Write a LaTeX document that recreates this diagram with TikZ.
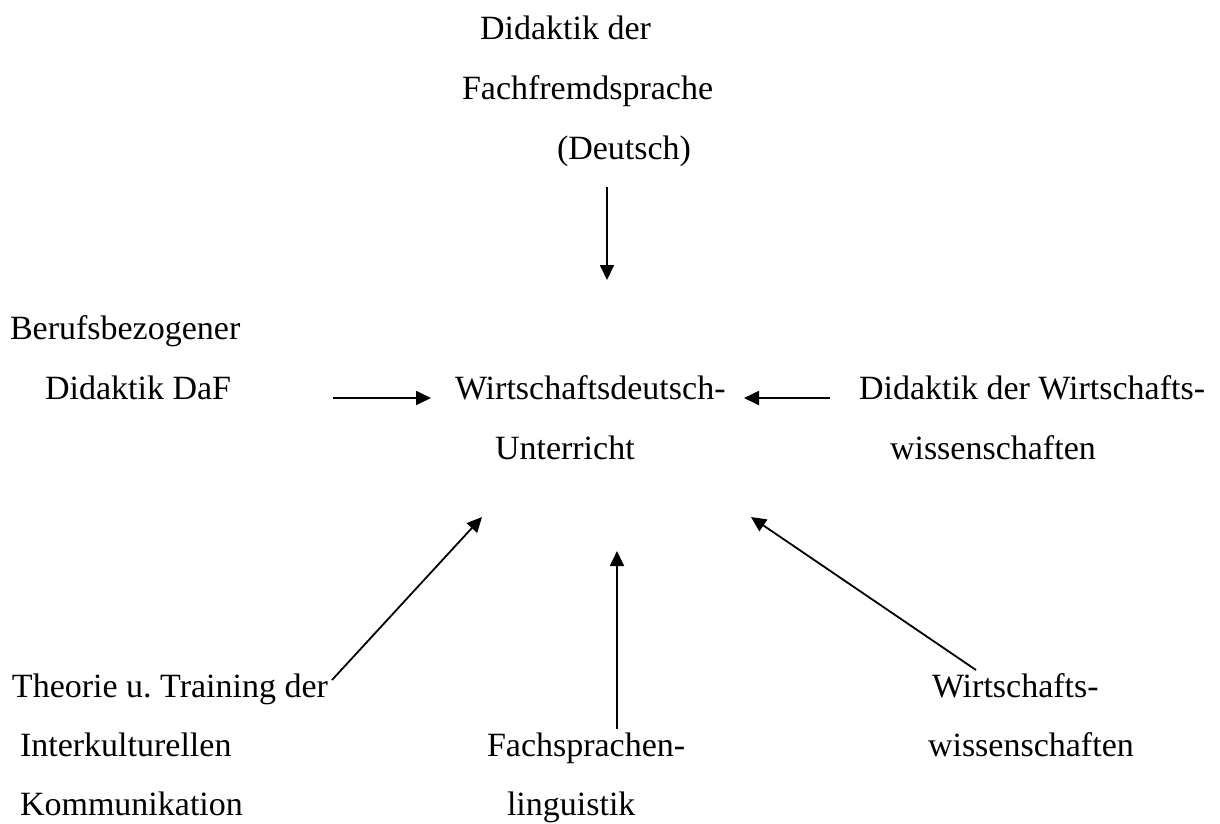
\documentclass[tikz,border=0pt]{standalone}
\usepackage{fontspec}
\setmainfont{Liberation Serif}
\usetikzlibrary{arrows.meta}
\frenchspacing
\tikzset{
  txt/.style={anchor=base west, inner sep=0pt, outer sep=0pt, font=\fontsize{34}{40}\selectfont},
  conn/.style={line width=1.8pt, -{Triangle[length=15pt, width=14pt]}}
}
\begin{document}
\begin{tikzpicture}[x=1pt, y=-1pt]
\useasboundingbox (0,0) rectangle (1220,823);
% top
\node[txt] (t1) at (480,39) {Didaktik der};
\node[txt] (t2) at (462,99) {Fachfremdsprache};
\node[txt] (t3) at (557,159) {(Deutsch)};
% left
\node[txt] (l1) at (10,339) {Berufsbezogener};
\node[txt] (l2) at (45,399) {Didaktik DaF};
% center
\node[txt] (c1) at (455,399) {Wirtschaftsdeutsch-};
\node[txt] (c2) at (495,459) {Unterricht};
% right
\node[txt] (r1) at (859,399) {Didaktik der Wirtschafts-};
\node[txt] (r2) at (890,459) {wissenschaften};
% bottom left
\node[txt] (b1) at (12,697) {Theorie u.\ Training der};
\node[txt] (b2) at (20,756) {Interkulturellen};
\node[txt] (b3) at (20,815) {Kommunikation};
% bottom middle
\node[txt] (m1) at (487,756) {Fachsprachen-};
\node[txt] (m2) at (507,815) {linguistik};
% bottom right
\node[txt] (w1) at (932,697) {Wirtschafts-};
\node[txt] (w2) at (928,756) {wissenschaften};
% connector ends
\coordinate (aTopS) at (607,187);
\coordinate (aTopE) at (607,280);
\coordinate (aLS) at (333,398);
\coordinate (aLE) at (431,398);
\coordinate (aRS) at (830,398);
\coordinate (aRE) at (744,398);
\coordinate (aBLS) at (332,680);
\coordinate (aBLE) at (482,517);
\coordinate (aBMS) at (617,729);
\coordinate (aBME) at (617,551);
\coordinate (aBRS) at (976,670);
\coordinate (aBRE) at (751,517);
\draw[conn] (aTopS) -- (aTopE);
\draw[conn] (aLS) -- (aLE);
\draw[conn] (aRS) -- (aRE);
\draw[conn] (aBLS) -- (aBLE);
\draw[conn] (aBMS) -- (aBME);
\draw[conn] (aBRS) -- (aBRE);
\end{tikzpicture}
\end{document}
